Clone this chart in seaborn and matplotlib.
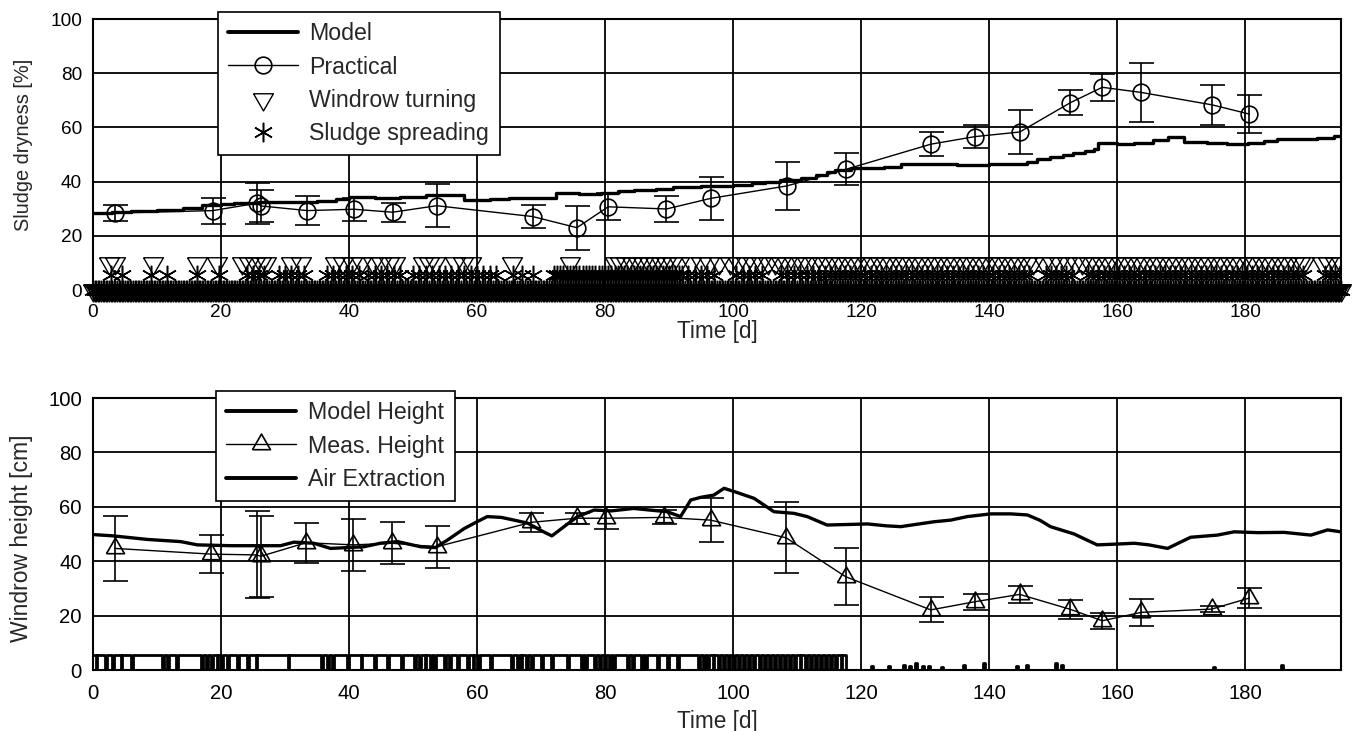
import numpy as np
import pandas as pd
import matplotlib
matplotlib.use("Agg")
import matplotlib.pyplot as plt
from matplotlib.lines import Line2D
import seaborn as sns

# ---- top panel: sludge dryness ----
prac_t = [3.5, 18.7, 25.6, 26.3, 33.5, 40.8, 46.8, 53.7, 68.7, 75.6, 80.5, 89.6,
          96.5, 108.4, 117.6, 130.9, 137.8, 144.8, 152.7, 157.7, 163.8, 174.9, 180.7]
prac_v = [28.4, 29.3, 32.0, 31.0, 29.3, 29.8, 28.7, 31.1, 27.1, 23.0, 30.7, 29.9,
          33.8, 38.4, 44.5, 53.8, 56.6, 58.3, 69.1, 74.8, 72.9, 68.3, 64.9]
prac_err = [3.0, 4.8, 7.5, 6.0, 5.3, 4.2, 3.5, 8.0, 4.3, 8.1, 5.0, 4.9,
            8.0, 8.9, 5.9, 4.5, 4.2, 8.1, 4.6, 5.0, 11.0, 7.4, 7.0]

model_t = [0, 3, 6, 10, 14, 17, 20, 22, 26, 28, 35, 38, 40, 44, 48, 52, 58, 62, 65,
           72.3, 76, 79.3, 82, 84.5, 88, 90.7, 95, 100, 103, 105, 107.4, 110.6, 113,
           114.7, 116, 118.4, 121, 123.6, 126.2, 135, 140, 144.4, 146, 147.5, 149.6,
           151.5, 153.2, 155, 156.4, 157, 160, 162.6, 165.6, 167.9, 170.5, 174, 177.2,
           180.4, 183, 185, 188, 191.3, 193.9, 195]
model_v = [28.5, 28.8, 29.2, 29.5, 30.2, 31.4, 31.7, 32.2, 32.6, 32.3, 33.0, 33.5, 34.2,
           34.0, 34.3, 35.0, 33.2, 33.5, 33.8, 35.7, 35.4, 35.9, 36.4, 36.9, 37.4, 37.9,
           38.2, 38.7, 39.6, 40.0, 40.6, 41.2, 42.5, 43.7, 44.3, 44.9, 45.2, 45.5, 46.4,
           46.2, 46.4, 46.4, 47.3, 48.2, 49.2, 50.0, 50.7, 51.3, 51.9, 54.1, 54.0, 54.4,
           55.4, 56.3, 54.7, 54.3, 53.9, 54.4, 54.8, 55.6, 55.9, 56.2, 56.8, 56.5]

turn_t = [2.5, 3.5, 9.3, 16.3, 19.4, 23.3, 24.3, 25.3, 26.3, 27.0, 30.9, 32.5, 37.8,
          39.0, 40.5, 41.8, 43.8, 45.0, 46.2, 47.2, 51.5, 52.5, 53.5, 56.5, 57.8, 59.0,
          65.5, 74.6, 81.5, 82.4, 83.3, 84.2, 85.1, 86.0, 86.9, 87.8, 88.7, 89.6, 90.5,
          91.6, 93.5, 95.0, 96.2, 97.8, 99.6, 100.8, 102.0, 103.2, 104.4, 105.4, 106.5,
          107.5, 108.5, 109.6, 110.6, 111.6, 112.8, 113.9, 114.9, 115.9, 116.9, 117.9,
          118.9, 119.9, 120.9, 121.9, 122.9, 123.9, 124.9, 125.9, 126.9, 127.9, 128.9,
          129.9, 130.9, 131.9, 132.9, 133.9, 134.9, 135.9, 136.9, 137.9, 138.9, 139.9,
          140.9, 141.9, 142.9, 143.9, 144.9, 145.9, 146.9, 148.6, 149.8, 151.0, 152.2,
          153.4, 154.6, 155.6, 156.6, 157.6, 158.6, 159.6, 160.6, 161.6, 162.6, 163.6,
          164.6, 165.6, 166.6, 167.6, 168.6, 169.6, 170.6, 171.6, 172.6, 173.6, 174.6,
          175.6, 176.6, 177.6, 178.6, 179.6, 180.6, 181.6, 182.6, 183.6, 184.6, 185.6,
          186.6, 187.6, 188.6, 189.2, 192.0, 193.0, 194.0, 195.0]
turn_level = 10

spread_t = [2.8, 4.6, 9.0, 11.6, 16.3, 19.7, 24.0, 25.0, 26.0, 26.7, 29.0, 30.0, 31.0,
            32.0, 33.0, 36.5, 37.5, 38.5, 39.5, 40.5, 41.5, 43.0, 44.0, 45.0, 46.0,
            47.0, 48.0, 50.0, 51.0, 52.0, 53.0, 54.0, 55.0, 56.0, 57.0, 58.0, 59.0,
            60.0, 61.0, 62.0, 63.0, 65.7, 67.0, 68.7,
            72.0, 72.5, 73.0, 73.5, 74.0, 74.5, 75.0, 75.5, 76.0, 76.5, 77.0, 77.5,
            78.0, 78.5, 79.0, 79.5, 80.0, 80.5, 81.0, 81.5, 82.0, 82.5, 83.0, 83.5,
            84.0, 84.5, 85.0, 85.5, 86.0, 86.5, 87.0, 87.5, 88.0, 88.5, 89.0, 89.5,
            90.0, 90.5, 91.0, 91.5, 92.0, 93.0, 94.0, 95.0, 96.0, 97.0, 100.5, 101.5,
            102.5, 103.5, 104.5, 107.5, 108.5, 109.5, 110.5, 111.5, 112.5, 113.5,
            114.3, 115.1, 115.9, 116.7, 117.5, 118.3, 119.1, 119.9, 120.7, 121.5,
            122.3, 123.1, 123.9, 124.7, 125.5, 126.3, 127.1, 127.9, 128.7, 129.5,
            130.3, 131.1, 131.9, 132.7, 133.5, 134.3, 135.1, 135.9, 136.7, 137.5,
            138.3, 139.1, 139.9, 140.7, 141.5, 142.3, 143.1, 143.9, 144.7, 145.5,
            146.3, 148.9, 149.7, 150.5, 151.3, 152.1, 152.9, 155.5, 156.3, 157.1,
            157.9, 158.7, 159.5, 160.3, 161.1, 161.9, 162.7, 163.5, 164.3, 165.1,
            165.9, 166.7, 167.5, 168.3, 169.1, 169.9, 170.7, 171.5, 172.3, 173.1,
            173.9, 174.7, 175.5, 176.3, 177.1, 177.9, 178.7, 179.5, 180.3, 181.1,
            181.9, 182.7, 183.5, 184.3, 185.1, 185.9, 186.7, 187.5, 188.3, 189.1,
            192.5, 193.3, 194.1, 194.9]
spread_level = 5.5

# logger sample times where neither event happened (plotted at 0)
log_t = np.arange(0, 195.25, 0.25)

# ---- bottom panel: windrow height ----
meas_t = [3.4, 18.5, 25.6, 26.2, 33.3, 40.7, 46.7, 53.7, 68.5, 75.6, 80.2, 89.2,
          96.5, 108.3, 117.6, 130.9, 137.8, 144.8, 152.7, 157.7, 163.8, 174.8, 180.6]
meas_v = [44.7, 42.6, 42.3, 41.8, 46.8, 46.0, 46.6, 45.3, 54.3, 55.8, 55.8, 56.1,
          55.1, 48.6, 34.3, 22.1, 25.1, 27.8, 22.3, 18.1, 21.2, 22.4, 26.4]
meas_err = [12.0, 7.0, 16.0, 15.0, 7.4, 9.5, 7.7, 7.8, 3.5, 2.0, 4.0, 2.6,
            8.0, 13.0, 10.5, 4.6, 3.0, 3.0, 3.6, 2.9, 4.9, 1.0, 3.7]

mh_t = [0, 3.2, 8.5, 13.7, 16.3, 21.5, 29.3, 31.4, 34.5, 37.1, 42.3, 44.9, 47.6, 51.2,
        53.5, 55.4, 58, 60, 61.6, 63.8, 66, 67.9, 70.4, 71.7, 73.6, 75.7, 78.3, 81,
        84.5, 87, 89.7, 91.8, 93.4, 95, 97, 98.6, 100.2, 103.3, 106.4, 109.5, 111.6,
        114.7, 118, 121, 124, 126.2, 128.5, 131.4, 134, 136.6, 140.3, 143.4, 146, 148,
        149.6, 153.3, 156.9, 160, 162.7, 165, 167.9, 171.5, 175.7, 178.3, 182, 186.1,
        190.3, 192.9, 195]
mh_v = [49.8, 49.3, 48.0, 47.2, 46.0, 45.7, 45.7, 47.0, 46.6, 44.7, 45.3, 46.6, 47.2,
        45.3, 45.0, 47.8, 52.0, 54.5, 56.4, 56.1, 55.0, 54.0, 50.8, 49.3, 52.7, 56.4,
        58.8, 58.5, 59.4, 58.8, 58.2, 56.4, 62.5, 63.5, 64.3, 66.8, 65.6, 63.1, 58.2,
        57.6, 56.4, 53.3, 53.5, 53.7, 53.0, 52.7, 53.5, 54.5, 55.1, 56.4, 57.4, 57.4,
        57.0, 55.0, 52.7, 50.0, 46.0, 46.3, 46.6, 46.0, 44.7, 48.8, 49.6, 50.8, 50.5,
        50.6, 49.6, 51.5, 50.8]

# air extraction: on until day 117.7 with short off dips, then off with short blips
air_on_level = 5.5
air_stop = 117.7
air_off_t = [0.4, 1.9, 3.0, 4.3, 5.9, 10.8, 11.5, 13.0, 16.9, 17.7, 18.5, 19.3, 20.0,
             21.0, 22.5, 24.1, 25.4, 30.4, 35.6, 36.6, 37.4, 39.7, 41.8, 43.9, 46.0,
             48.1, 50.2, 51.0, 51.8, 52.6, 53.3, 54.8, 55.6, 56.9, 58.5, 59.3, 60.1,
             62.1, 65.3, 66.3, 66.8, 67.6, 68.4, 70.0, 71.5, 74.1, 76.2, 76.9, 78.3,
             79.0, 79.8, 80.6, 81.2, 83.5, 84.2, 85.6, 86.3, 88.2, 89.7, 91.3, 94.5,
             95.3, 96.0, 96.8, 97.6, 98.4, 99.2, 100.0, 100.8, 101.6, 102.4, 103.2,
             104.0, 104.8, 105.6, 106.4, 107.2, 108.0, 108.8, 109.6, 110.4, 111.2,
             112.0, 112.8, 113.6, 114.4, 115.2, 116.0, 116.8]
air_blip_t = [121.6, 124.2, 126.5, 127.5, 128.4, 129.5, 130.5, 132.5, 136.0, 139.0,
              144.2, 145.8, 150.3, 151.3, 175.0, 185.6]
air_blip_v = [1.5, 1.5, 2.0, 1.5, 2.5, 1.5, 1.5, 1.0, 2.0, 2.5, 1.5, 2.0, 2.5, 2.0,
              1.0, 2.0]
dip_len = 0.3

air_t, air_v = [0.0], [air_on_level]
for t in air_off_t:
    air_t += [t, t + dip_len]
    air_v += [0.0, air_on_level]
air_t.append(air_stop)
air_v.append(0.0)
for t, v in zip(air_blip_t, air_blip_v):
    air_t += [t, t + dip_len]
    air_v += [v, 0.0]
air_t.append(195.0)
air_v.append(0.0)

# ---- style ----
sns.set_theme(style="whitegrid")
plt.rcParams['font.family'] = ['Liberation Sans', 'DejaVu Sans']

W, H = 1354, 731
fig = plt.figure(figsize=(W / 100, H / 100), dpi=100)
ax1 = fig.add_axes([93 / W, 1 - 290 / H, 1248 / W, 271 / H])
ax2 = fig.add_axes([93 / W, 1 - 670 / H, 1248 / W, 272 / H])

tri_down = [(-1, 0.577), (1, 0.577), (0, -1.155), (-1, 0.577)]
tri_up = [(-1, -0.577), (1, -0.577), (0, 1.155), (-1, -0.577)]
aster = (6, 2, 0)

for ax, tsize in ((ax1, 13.7), (ax2, 14.6)):
    ax.set_facecolor('white')
    ax.set_xlim(0, 195)
    ax.set_ylim(0, 100)
    ax.set_xticks(range(0, 181, 20))
    ax.set_yticks(range(0, 101, 20))
    ax.grid(True, color='black', lw=1.3)
    ax.set_axisbelow(True)
    for s in ax.spines.values():
        s.set_color('black')
        s.set_linewidth(1.5)
    ax.tick_params(axis='both', length=0, labelsize=tsize, colors='black')
    ax.tick_params(axis='x', pad=10)
    ax.tick_params(axis='y', pad=8)

leg_kw = dict(loc='upper left', borderaxespad=0, fontsize=16.7, frameon=True,
              fancybox=False, framealpha=1, edgecolor='black', handlelength=3.0,
              handletextpad=0.5, borderpad=0.45, labelspacing=0.44)

# top panel
ax1.plot(log_t, np.zeros_like(log_t), ls='none', marker=tri_down, ms=16.5,
         mfc='none', mec='black', mew=1.0, clip_on=False, zorder=3)
ax1.plot(log_t, np.zeros_like(log_t), ls='none', marker=aster, ms=14,
         mec='black', mew=1.0, clip_on=False, zorder=3)
ax1.plot(turn_t, [turn_level] * len(turn_t), ls='none', marker=tri_down, ms=16.5,
         mfc='none', mec='black', mew=1.0, zorder=3)
ax1.plot(spread_t, [spread_level] * len(spread_t), ls='none', marker=aster, ms=14,
         mec='black', mew=1.1, zorder=3)
sns.lineplot(x=model_t, y=model_v, ax=ax1, color='black', lw=2.4,
             drawstyle='steps-post', estimator=None, zorder=4)
ax1.errorbar(prac_t, prac_v, yerr=prac_err, fmt='none', ecolor='black',
             elinewidth=1.2, capsize=9, capthick=1.2, zorder=5)
sns.lineplot(x=prac_t, y=prac_v, ax=ax1, color='black', lw=1.0, marker='o',
             ms=12, mfc='none', mec='black', mew=1.2, estimator=None, zorder=6)
ax1.set_xlabel('Time [d]', fontsize=16.3)
ax1.set_ylabel('Sludge dryness [%]', fontsize=14.4)
ax1.xaxis.set_label_coords(0.5, -0.11)
ax1.yaxis.set_label_coords(-0.048, 0.537)

h1 = [Line2D([], [], color='black', lw=2.8),
      Line2D([], [], color='black', lw=1.0, marker='o', ms=12, mfc='none', mew=1.2),
      Line2D([], [], ls='none', marker=tri_down, ms=16.5, mfc='none', mec='black', mew=1.0),
      Line2D([], [], ls='none', marker=aster, ms=14, mec='black', mew=1.1)]
leg1 = ax1.legend(h1, ['Model', 'Practical', 'Windrow turning', 'Sludge spreading'],
                  bbox_to_anchor=(0.1, 1.026), **leg_kw)
leg1.get_frame().set_linewidth(1.2)
leg1.set_zorder(10)

# bottom panel
sns.lineplot(x=air_t, y=air_v, ax=ax2, color='black', lw=2.0,
             drawstyle='steps-post', estimator=None, sort=False, zorder=3)
sns.lineplot(x=mh_t, y=mh_v, ax=ax2, color='black', lw=2.4, estimator=None, zorder=4)
ax2.errorbar(meas_t, meas_v, yerr=meas_err, fmt='none', ecolor='black',
             elinewidth=1.2, capsize=9, capthick=1.2, zorder=5)
sns.lineplot(x=meas_t, y=meas_v, ax=ax2, color='black', lw=1.0, marker=tri_up,
             ms=15, mfc='none', mec='black', mew=1.2, estimator=None, zorder=6)
ax2.set_xlabel('Time [d]', fontsize=16.3)
ax2.set_ylabel('Windrow height [cm]', fontsize=16.5)
ax2.xaxis.set_label_coords(0.5, -0.148)
ax2.yaxis.set_label_coords(-0.048, 0.485)

h2 = [Line2D([], [], color='black', lw=2.8),
      Line2D([], [], color='black', lw=1.0, marker=tri_up, ms=15, mfc='none', mew=1.2),
      Line2D([], [], color='black', lw=2.8)]
leg2 = ax2.legend(h2, ['Model Height', 'Meas. Height', 'Air Extraction'],
                  bbox_to_anchor=(0.0986, 1.026), **leg_kw)
leg2.get_frame().set_linewidth(1.2)
leg2.set_zorder(10)

fig.savefig('out.png', dpi=100, facecolor='white')
